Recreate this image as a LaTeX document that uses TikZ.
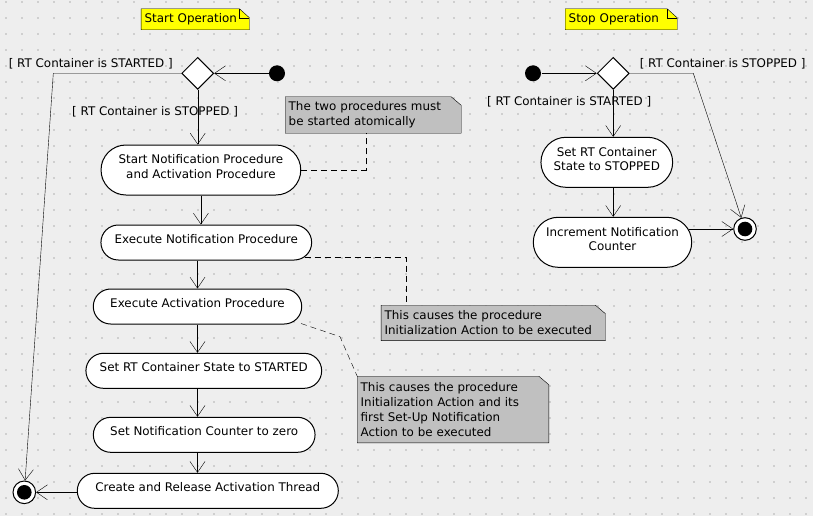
\documentclass[tikz,border=0pt]{standalone}
\usepackage{fontspec}
\setmainfont{DejaVu Sans}
\usetikzlibrary{shapes.geometric,arrows.meta,calc}
\definecolor{bgc}{HTML}{EEEEEE}
\definecolor{dotc}{HTML}{CFCFCF}
\definecolor{notegray}{HTML}{C0C0C0}
\definecolor{noteyel}{HTML}{FFFF00}
\newcommand\dpt{\rule[-6.8pt]{0pt}{6.8pt}}
\pgfdeclarelayer{bgzero}
\pgfdeclarelayer{bgone}
\pgfsetlayers{bgzero,bgone,main}
\begin{document}
\begin{tikzpicture}[x=1pt,y=-1pt,line width=1pt,
  basefont/.style={font=\fontsize{11.9pt}{15pt}\selectfont, text=black},
  act/.style={draw, fill=white, inner sep=0pt, align=center, text=black, font=\fontsize{11.9pt}{14.5pt}\selectfont},
  notebox/.style={basefont, inner xsep=3pt, inner ysep=0pt, align=left},
  startnode/.style={circle, fill=black, minimum size=16pt, inner sep=0pt},
  finalnode/.style={circle, draw, fill=white, minimum size=22.6pt, inner sep=0pt,
     path picture={\fill[black] (path picture bounding box.center) circle (7.3pt);}},
  decision/.style={diamond, aspect=1, draw, fill=white, minimum width=32pt, minimum height=32pt, inner sep=0pt},
  flow/.style={-{Straight Barb[length=11pt,width=15pt]}},
  link/.style={dash pattern=on 6pt off 4pt},
  guard/.style={basefont, inner sep=0pt, anchor=base west}]
\useasboundingbox (0,0) rectangle (813,516);

% ---------- nodes: left (start operation)
\node[notebox, text width=101.3pt, minimum height=20pt] (sn) at (195.3,19.3) {Start Operation};
\node[decision] (d1) at (197.7,73.3) {};
\node[startnode] (i1) at (277,73.3) {};
\node[act, minimum width=199.7pt, minimum height=50pt, rounded corners=24.9pt] (a1) at (200.9,170) {Start Notification Procedure\\and Activation Procedure\dpt};
\node[act, minimum width=210.7pt, minimum height=35pt, rounded corners=17.4pt] (a2) at (206.3,242.5) {Execute Notification Procedure\dpt};
\node[act, minimum width=208.4pt, minimum height=35pt, rounded corners=17.4pt] (a3) at (197.5,306.5) {Execute Activation Procedure\dpt};
\node[act, minimum width=235.7pt, minimum height=35pt, rounded corners=17.4pt] (a4) at (203.8,370.8) {Set RT Container State to STARTED\dpt};
\node[act, minimum width=221.7pt, minimum height=35pt, rounded corners=17.4pt] (a5) at (204.2,434.8) {Set Notification Counter to zero\dpt};
\node[act, minimum width=261pt, minimum height=35pt, rounded corners=17.4pt] (a6) at (207.8,490.8) {Create and Release Activation Thread\dpt};
\node[finalnode] (f1) at (24.3,492.3) {};

\node[notebox, text width=169pt, minimum height=35.4pt] (n1) at (373.2,115) {The two procedures must\\be started atomically};
\node[notebox, text width=217.3pt, minimum height=34.3pt] (n2) at (493.3,322.9) {This causes the procedure\\Initialization Action to be executed};
\node[notebox, text width=184.6pt, minimum height=65.6pt] (n3) at (453,409.5) {This causes the procedure\\Initialization Action and its\\first Set-Up Notification\\Action to be executed};

\node[guard] (g1) at (8.3,67.3) {[ RT Container is STARTED ]};
\node[guard] (g2) at (71.7,115) {[ RT Container is STOPPED ]};

% ---------- nodes: right (stop operation)
\node[notebox, text width=105pt, minimum height=20pt] (tn) at (621.2,19.3) {Stop Operation};
\node[startnode] (i2) at (533,73.3) {};
\node[decision] (d2) at (613.2,73.3) {};
\node[act, minimum width=131.7pt, minimum height=50pt, rounded corners=24.9pt] (b1) at (606.8,162.3) {Set RT Container\\State to STOPPED\dpt};
\node[act, minimum width=158.4pt, minimum height=50pt, rounded corners=24.9pt] (b2) at (612.5,242.3) {Increment Notification\\Counter\dpt};
\node[finalnode] (f2) at (745,229) {};
\node[guard] (g3) at (639.3,67.3) {[ RT Container is STOPPED ]};
\node[guard] (g4) at (486.7,105.7) {[ RT Container is STARTED ]};

% ---------- background and note shapes
\begin{pgfonlayer}{bgzero}
  \fill[bgc] (0,0) rectangle (813,516);
  \foreach \x in {6,22,...,806} {
    \foreach \y in {2,18,...,514} {
      \fill[dotc] (\x-0.75,\y-0.75) rectangle ++(1.5,1.5);
    }
  }
\end{pgfonlayer}
\begin{pgfonlayer}{bgone}
  \foreach \n in {n1,n2,n3} {
    \draw[fill=notegray, line join=miter] (\n.north west) -- ([xshift=-10pt]\n.north east) -- ([yshift=-8.5pt]\n.north east) -- (\n.south east) -- (\n.south west) -- cycle;
  }
  \foreach \n in {sn,tn} {
    \draw[fill=noteyel, line join=miter] (\n.north west) -- ([xshift=-10pt]\n.north east) -- ([yshift=-9pt]\n.north east) -- (\n.south east) -- (\n.south west) -- cycle;
    \draw ([xshift=-10pt]\n.north east) -- ([xshift=-10pt,yshift=-9pt]\n.north east) -- ([yshift=-9pt]\n.north east);
  }
\end{pgfonlayer}

% ---------- connectors left
\coordinate (c1) at (53.3,73.3);
\draw[flow] (i1) -- (d1.east);
\draw[flow] (d1.south) -- (d1.south |- a1.north);
\draw[flow] (a1.south) -- (a1.south |- a2.north);
\draw[flow] (a3.north |- a2.south) -- (a3.north);
\draw[flow] (a3.south) -- (a3.south |- a4.north);
\draw[flow] (a3.south |- a4.south) -- (a3.south |- a5.north);
\draw[flow] (a3.south |- a5.south) -- (a3.south |- a6.north);
\draw[flow] (d1.west) -- (c1) -- (f1);
\draw[flow] (a6.west |- f1) -- (f1);

% ---------- note links
\coordinate (k1) at (365.7,170);
\draw[link] (a1.east) -- (k1) -- (k1 |- n1.south);
\coordinate (k2s) at (304.5,256.7);
\coordinate (k2) at (405.7,256.7);
\draw[link] (k2s) -- (k2) -- (k2 |- n2.north);
\coordinate (k3s) at (301,323.5);
\coordinate (k3) at (340,336.7);
\draw[link] (k3s) -- (k3) -- (n3.north west);

% ---------- connectors right
\coordinate (c2) at (693.3,73.3);
\coordinate (b2r) at (689,229);
\draw[flow] (i2) -- (d2.west);
\draw[flow] (d2.south) -- (d2.south |- b1.north);
\draw[flow] (d2.south |- b1.south) -- (d2.south |- b2.north);
\draw[flow] (d2.east) -- (c2) -- (f2);
\draw[flow] (b2r) -- (f2);
\end{tikzpicture}
\end{document}
